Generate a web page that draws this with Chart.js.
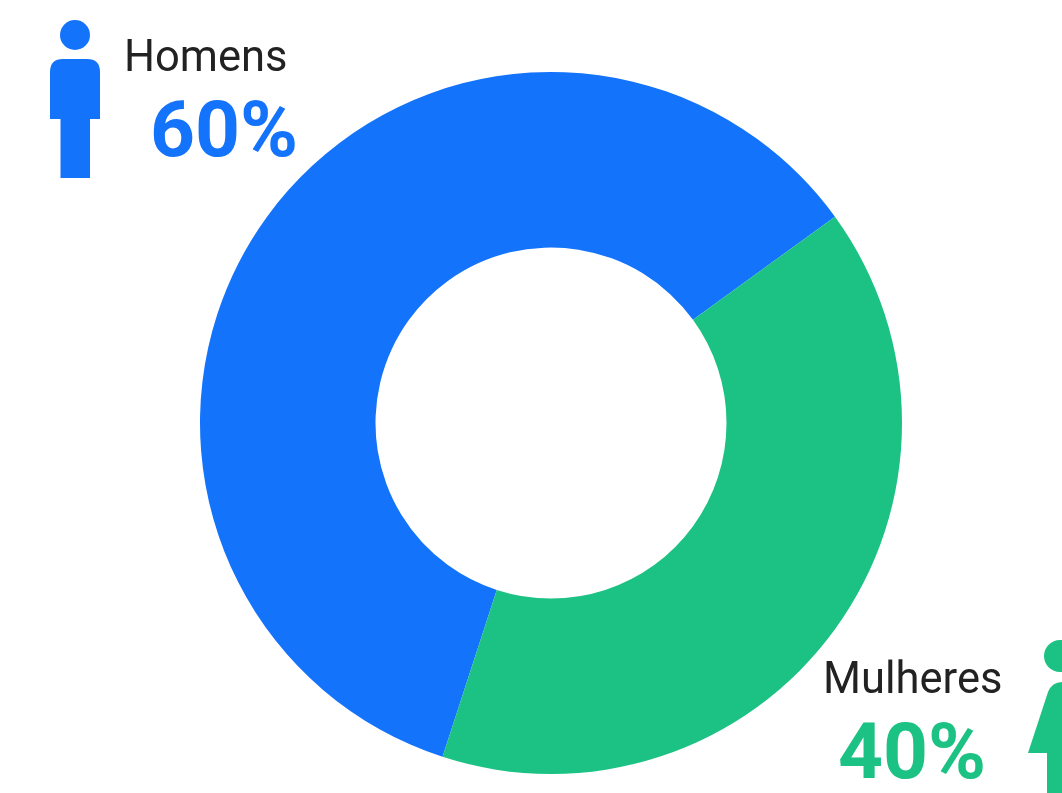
<!DOCTYPE html>
<html>
<head>
<meta charset="utf-8">
<title>Homens e Mulheres</title>
<script src="https://cdn.jsdelivr.net/npm/chart.js@4/dist/chart.umd.min.js"></script>
<style>
  html, body { margin: 0; padding: 0; background: #fff; overflow: hidden; }
  #stage { position: relative; width: 1062px; height: 793px; font-family: Roboto, sans-serif; }
  #chartGender { position: absolute; left: 200px; top: 72px; }
  .name, .pct { position: absolute; white-space: nowrap; line-height: 1; }
  .name { font-size: 43.5px; color: #222; }
  .pct { font-size: 78.5px; font-weight: 700; }
  svg { position: absolute; left: 0; top: 0; }
</style>
</head>
<body>
<div id="stage">
  <canvas id="chartGender" width="702" height="702"></canvas>

  <!-- pictogramas -->
  <svg width="1062" height="793">
    <g fill="#1473fb">
      <circle cx="75" cy="35" r="15"></circle>
      <path d="M50 118 V72 Q50 59 63 59 H87 Q100 59 100 72 V119 H90 V178 H60.5 V119 H50 Z"></path>
    </g>
    <g fill="#1cc283">
      <circle cx="1060" cy="656" r="16"></circle>
      <path d="M1028 753 L1048 692 Q1052 682 1062 682 V793 H1047 V753 Z"></path>
    </g>
  </svg>

  <span class="name" id="name0" style="left:124px;top:35px"></span>
  <span class="pct" id="pct0" style="left:150px;top:90px"></span>
  <span class="name" id="name1" style="left:823px;top:657px"></span>
  <span class="pct" id="pct1" style="left:838px;top:712px"></span>
</div>

<script>
const labels = ['Homens', 'Mulheres'];
const values = [60, 40];
const colors = ['#1473fb', '#1cc283'];

// textos ao lado do anel
labels.forEach((label, i) => {
  document.getElementById('name' + i).textContent = label;
  const pct = document.getElementById('pct' + i);
  pct.textContent = values[i] + '%';
  pct.style.color = colors[i];
});

new Chart(document.getElementById('chartGender'), {
  type: 'doughnut',
  data: {
    labels,
    datasets: [{
      data: values,
      backgroundColor: colors,
      borderWidth: 0
    }]
  },
  options: {
    responsive: false,
    animation: false,
    cutout: '50%',
    rotation: 198,
    plugins: {
      legend: { display: false },
      tooltip: { enabled: false }
    }
  }
});
</script>
</body>
</html>
